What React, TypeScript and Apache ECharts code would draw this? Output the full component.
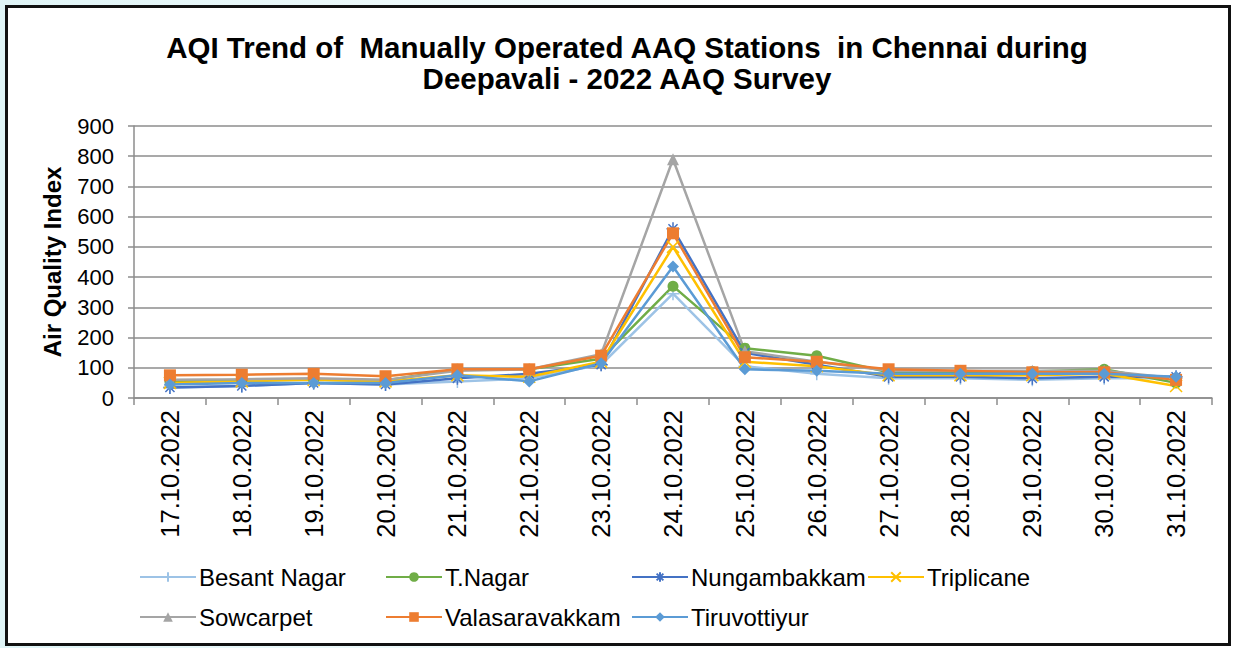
import React, { useEffect, useRef } from "react";
import * as echarts from "echarts";

const categories = [
  "17.10.2022", "18.10.2022", "19.10.2022", "20.10.2022", "21.10.2022",
  "22.10.2022", "23.10.2022", "24.10.2022", "25.10.2022", "26.10.2022",
  "27.10.2022", "28.10.2022", "29.10.2022", "30.10.2022", "31.10.2022",
];

const besantNagar = [35, 40, 50, 45, 55, 65, 110, 345, 105, 80, 65, 65, 60, 65, 65];
const tNagar = [55, 60, 60, 58, 95, 95, 130, 370, 165, 140, 85, 85, 88, 95, 50];
const nungambakkam = [35, 40, 50, 45, 65, 80, 110, 560, 150, 110, 70, 70, 65, 70, 70];
const triplicane = [50, 55, 60, 55, 75, 70, 120, 500, 120, 105, 75, 75, 75, 80, 40];
const sowcarpet = [60, 62, 65, 60, 90, 95, 145, 790, 155, 120, 90, 90, 90, 90, 65];
const valasaravakkam = [75, 77, 80, 72, 95, 95, 140, 545, 135, 120, 95, 90, 85, 85, 60];
const tiruvottiyur = [45, 50, 50, 50, 75, 55, 115, 435, 95, 90, 80, 80, 80, 80, 70];

const yTicks = [0, 100, 200, 300, 400, 500, 600, 700, 800, 900];

const PLUS = "path://M5,0L5,10M0,5L10,5";
const CROSS = "path://M0,0L10,10M10,0L0,10";
const STAR = "path://M5,0L5,10M0,5L10,5M1.5,1.5L8.5,8.5M8.5,1.5L1.5,8.5";

const seriesDefs = [
  { name: "Besant Nagar", data: besantNagar, color: "#9DC3E6", symbol: PLUS, size: 13, stroke: true },
  { name: "T.Nagar", data: tNagar, color: "#70AD47", symbol: "circle", size: 11, stroke: false },
  { name: "Nungambakkam", data: nungambakkam, color: "#4472C4", symbol: STAR, size: 13, stroke: true },
  { name: "Triplicane", data: triplicane, color: "#FFC000", symbol: CROSS, size: 12, stroke: true },
  { name: "Sowcarpet", data: sowcarpet, color: "#A5A5A5", symbol: "triangle", size: 12, stroke: false },
  { name: "Valasaravakkam", data: valasaravakkam, color: "#ED7D31", symbol: "rect", size: 12, stroke: false },
  { name: "Tiruvottiyur", data: tiruvottiyur, color: "#5B9BD5", symbol: "diamond", size: 12, stroke: false },
];

const legendPos = [
  { left: 134, top: 560 },
  { left: 380, top: 560 },
  { left: 626, top: 560 },
  { left: 862, top: 560 },
  { left: 134, top: 600 },
  { left: 380, top: 600 },
  { left: 626, top: 600 },
];

export default function App() {
  const ref = useRef<HTMLDivElement>(null);

  useEffect(() => {
    if (!ref.current) return;
    const chart = echarts.init(ref.current, undefined, { renderer: "svg" });
    const font = "Liberation Sans, Arial, sans-serif";
    chart.setOption({
      animation: false,
      backgroundColor: "transparent",
      title: {
        text: "AQI Trend of  Manually Operated AAQ Stations  in Chennai during\nDeepavali - 2022 AAQ Survey",
        left: 622,
        top: 27,
        textAlign: "center",
        textStyle: {
          fontFamily: font,
          fontSize: 29.5,
          fontWeight: "bold",
          color: "#000",
          lineHeight: 31,
          align: "center",
        },
      },
      legend: seriesDefs.map((s, i) => ({
        data: [s.name],
        left: legendPos[i].left,
        top: legendPos[i].top,
        itemWidth: 56,
        itemHeight: 12,
        itemGap: 4,
        textStyle: { fontFamily: font, fontSize: 24, color: "#000", padding: [0, 0, 0, -2] },
      })),
      grid: { left: 134, right: 25, top: 126, bottom: 250, containLabel: false },
      xAxis: {
        type: "category",
        data: categories,
        boundaryGap: true,
        axisLine: { lineStyle: { color: "#8c8c8c", width: 1.5 } },
        axisTick: { show: true, length: 7, lineStyle: { color: "#8c8c8c", width: 1.5 } },
        axisLabel: {
          rotate: 90,
          fontFamily: font,
          fontSize: 25.5,
          color: "#000",
          margin: 12,
          interval: 0,
        },
      },
      yAxis: {
        type: "value",
        min: 0,
        max: 900,
        interval: 100,
        name: "Air Quality Index",
        nameLocation: "middle",
        nameGap: 70,
        nameTextStyle: { fontFamily: font, fontSize: 24, fontWeight: "bold", color: "#000" },
        axisLine: { show: true, lineStyle: { color: "#8c8c8c", width: 1.5 } },
        axisTick: { show: true, length: 6, lineStyle: { color: "#8c8c8c", width: 1.5 } },
        axisLabel: {
          fontFamily: font,
          fontSize: 22,
          color: "#000",
          margin: 20,
          formatter: (v: number) => (yTicks.includes(v) ? String(v) : ""),
        },
        splitLine: { show: true, lineStyle: { color: "#8c8c8c", width: 1.5 } },
      },
      series: seriesDefs.map((s) => ({
        name: s.name,
        type: "line",
        data: s.data,
        symbol: s.symbol,
        symbolSize: s.size,
        showSymbol: true,
        lineStyle: { color: s.color, width: 2.5 },
        itemStyle: s.stroke
          ? { color: s.color, borderColor: s.color, borderWidth: 1.5 }
          : { color: s.color, borderColor: s.color, borderWidth: 0 },
        emphasis: { disabled: true },
      })),
    });
    return () => chart.dispose();
  }, []);

  return (
    <div
      style={{
        position: "fixed",
        left: 0,
        top: 0,
        width: 1237,
        height: 648,
        background: "linear-gradient(90deg, #dff4f6 0%, #f2fbfc 45%, #ffffff 60%)",
        overflow: "hidden",
      }}
    >
      <div
        style={{
          position: "absolute",
          left: 5,
          top: 5,
          width: 1226,
          height: 641,
          background: "#fff",
          border: "3px solid #111",
          boxSizing: "border-box",
        }}
      />
      <div ref={ref} style={{ position: "absolute", left: 0, top: 0, width: 1237, height: 648 }} />
    </div>
  );
}
